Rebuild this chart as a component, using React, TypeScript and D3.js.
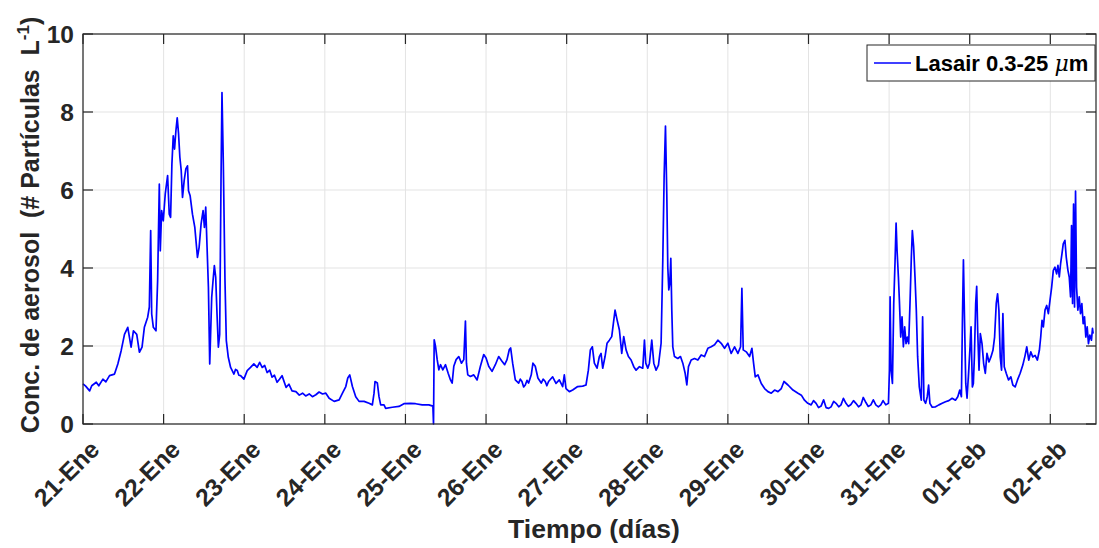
import React from 'react';
import * as d3 from 'd3';

// x in hours since 21-Ene 00:00, y in particles/L
const xTickLabels = ['21-Ene','22-Ene','23-Ene','24-Ene','25-Ene','26-Ene','27-Ene','28-Ene','29-Ene','30-Ene','31-Ene','01-Feb','02-Feb'];
const yTicks = [0, 2, 4, 6, 8, 10];
const xMaxHours = 301.6;
const legendLabel = 'Lasair 0.3-25 ';

const seg21to23: [number, number][] = [
  [0,1.03],[0.8,0.97],[1.98,0.85],[2.6,0.98],[3.95,1.07],[4.7,0.98],[5.93,1.15],[6.8,1.08],[7.9,1.24],[9.38,1.28],[10.37,1.54],[11.36,1.88],[12.35,2.3],[13.33,2.48],
  [14.32,1.97],[15.01,2.39],[16.0,2.3],[16.79,1.84],[17.58,1.97],[18.27,2.48],[19.26,2.74],[19.75,3.0],[20.15,4.96],[20.45,2.82],
  [20.94,2.48],[21.73,2.39],[22.22,3.68],[22.72,6.15],[23.01,4.44],[23.41,5.47],[23.9,5.21],[24.49,5.9],[25.19,6.37],[25.68,5.38],
  [26.08,5.3],[26.47,6.67],[26.87,7.39],[27.26,7.05],[27.66,7.52],[28.05,7.85],[28.45,7.44],[28.84,6.84],[29.24,6.5],[29.63,5.81],
  [30.12,6.24],[30.62,6.54],[31.11,6.62],[31.41,5.98],[31.9,5.85],[32.59,5.38],[33.29,5.04],[34.08,4.27],[34.57,4.53],[35.16,5.13],
  [35.75,5.47],[36.15,5.04],[36.54,5.56],[36.94,4.53],[37.34,3.5],[37.73,1.54],[38.32,3.25],[38.72,3.68],[39.11,4.06],[39.51,3.76],
  [39.9,2.82],[40.3,1.97],[40.69,2.3],[41.09,6.24],[41.38,8.5],[41.78,6.67],[42.27,3.68],[42.67,2.14],[43.26,1.71],[43.95,1.45],
  [44.94,1.28],[45.4,1.4],[45.93,1.37],[46.4,1.25],[46.92,1.24],[47.9,1.15],[48.89,1.37],[49.88,1.45],[50.87,1.54],[51.85,1.45],[52.6,1.58],[53.34,1.45],[54.1,1.5],[54.82,1.32],
  [55.6,1.38],[56.3,1.2],[57.0,1.25],[57.78,1.07],[58.5,1.15],[59.26,1.24],[60.45,0.94],[61.3,1.02],[62.23,0.85],
];

const seg24to26: [number, number][] = [
  [63.39,0.83],[64.4,0.74],[65.37,0.79],[66.3,0.72],[67.35,0.77],[68.3,0.7],[69.33,0.75],[70.3,0.82],[71.31,0.77],[72.3,0.79],[73.29,0.66],[74.77,0.58],[76.26,0.62],[77.25,0.79],
  [78.24,0.96],[78.83,1.18],[79.42,1.26],[80.21,0.96],[81.2,0.7],[82.19,0.58],[83.68,0.58],[85.16,0.53],[86.15,0.49],[86.65,0.79],
  [86.94,1.09],[87.64,1.05],[88.13,0.7],[88.63,0.49],[89.62,0.49],[90.11,0.4],[92.09,0.43],[94.07,0.45],[95.55,0.52],[97.53,0.53],
  [99.02,0.52],[101.0,0.49],[102.98,0.49],[104.17,0.46],[104.36,0],[104.56,2.16],[104.96,1.99],[105.45,1.65],[105.95,1.39],[106.44,1.52],
  [107.13,1.39],[107.93,1.52],[108.72,1.3],[109.41,1.13],[109.91,1.05],[110.4,1.48],[111.09,1.65],[111.88,1.73],[112.67,1.56],[113.37,1.65],
  [113.86,2.64],[114.16,1.56],[114.56,1.26],[115.35,1.22],[116.34,1.26],[117.33,1.13],[118.32,1.48],[119.31,1.78],[120.0,1.69],[120.79,1.48],
  [121.78,1.35],[122.77,1.52],[123.76,1.73],[124.75,1.61],[125.54,1.52],[126.24,1.65],[126.93,1.91],[127.32,1.95],[127.92,1.56],[128.71,1.13],
  [129.7,1.05],[130.2,1.15],[130.69,1.09],[131.2,0.95],[131.68,1.0],[132.2,1.12],[132.67,1.05],[133.46,1.26],[133.96,1.56],[134.65,1.48],[135.44,1.18],[136.43,1.05],[137.0,1.15],[137.62,1.09],
  [138.1,0.98],[138.61,1.09],
];

const seg27to29: [number, number][] = [
  [139.83,1.21],[140.82,1.04],[141.81,1.13],[142.81,0.96],[143.3,1.26],[143.8,0.91],[144.8,0.83],[145.79,0.87],[147.28,0.96],[148.77,0.97],
  [149.76,1.0],[150.46,1.38],[151.06,1.9],[151.65,1.98],[152.25,1.56],[153.04,1.43],[153.74,1.73],[154.24,1.81],[154.73,1.43],[155.43,1.73],
  [156.02,2.07],[156.72,2.15],[157.42,2.24],[157.91,2.58],[158.41,2.92],[159.01,2.67],[159.7,2.41],[160.4,1.81],[160.99,2.24],[161.69,1.9],
  [162.39,1.73],[163.18,1.64],[163.98,1.47],[164.67,1.38],[165.67,1.47],[166.66,1.43],[167.16,2.15],[167.55,1.56],[168.15,1.43],[168.65,1.56],
  [169.34,2.15],[169.94,1.56],[170.63,1.38],[171.33,1.51],[172.12,2.07],[172.62,4.2],[173.02,6.34],[173.42,7.64],[173.81,5.91],[174.11,4.03],
  [174.41,3.44],[174.71,3.61],[175.01,4.25],[175.3,2.92],[175.6,1.98],[176.1,1.73],[177.09,1.68],[177.89,1.73],[178.58,1.56],[179.28,1.3],
  [179.78,1.0],[180.27,1.47],[181.07,1.64],[182.06,1.68],[183.06,1.64],[184.05,1.77],[185.04,1.73],[186.04,1.94],[187.03,1.98],[188.03,2.03],
  [189.02,2.15],[190.01,2.07],[191.01,1.94],[192.0,2.07],[192.99,1.81],[193.99,1.98],[194.98,1.81],[195.78,1.98],[196.17,3.48],[196.57,1.9],
  [197.47,1.85],[198.46,1.73],[199.16,1.94],[199.65,1.56],[200.15,1.21],[200.95,1.26],[201.94,1.04],[202.93,0.91],[203.93,0.83],[204.92,0.79],
  [205.91,0.87],[206.91,0.83],[207.9,0.91],[208.7,1.09],[209.89,1.0],[211.38,0.87],[212.87,0.79],[213.87,0.74],
];

const seg30to02: [number, number][] = [
  [214.81,0.61],[215.8,0.53],[216.79,0.49],[217.5,0.6],[218.27,0.53],[219.0,0.42],[219.75,0.46],[220.5,0.62],[221.23,0.42],[222.0,0.4],
  [222.72,0.44],[223.5,0.58],[224.2,0.53],[225.0,0.44],[225.68,0.49],[226.4,0.66],[227.16,0.53],[227.9,0.45],[228.64,0.5],[229.4,0.6],
  [230.12,0.53],[230.9,0.44],[231.61,0.49],[232.3,0.68],[233.09,0.55],[233.8,0.45],[234.57,0.49],[235.3,0.62],[236.05,0.49],[236.8,0.44],
  [237.53,0.49],[238.2,0.6],[239.01,0.49],[239.8,0.53],[240.1,1.38],
  [240.3,3.26],[240.59,1.38],[240.99,1.04],[241.38,3.09],[241.78,4.19],[242.08,5.15],[242.37,4.45],[242.77,3.77],[243.06,3.17],[243.46,2.23],
  [243.85,2.75],[244.25,1.98],[244.64,2.49],[245.04,2.06],[245.43,2.23],[245.83,2.06],[246.22,3.09],[246.62,4.28],[246.92,4.96],[247.31,4.54],
  [247.71,3.77],[248.1,2.92],[248.5,1.72],[248.99,0.95],[249.58,0.61],[249.98,2.75],[250.37,0.61],[250.87,0.53],[251.36,0.7],[251.76,1.0],
  [252.15,0.53],[252.84,0.43],[253.83,0.44],[254.82,0.49],[255.8,0.53],[256.79,0.57],[257.78,0.6],[258.77,0.66],[259.75,0.61],[260.45,0.7],
  [261.04,0.87],[261.53,0.7],[261.83,2.66],[262.13,4.21],[262.42,2.83],[262.82,1.04],[263.21,0.66],[263.71,1.38],[264.1,1.98],[264.4,2.49],
  [264.79,0.95],[265.09,1.04],[265.39,1.72],[265.78,3.09],[266.08,3.53],[266.37,2.4],[266.77,1.38],[267.16,2.32],[267.66,2.06],[268.15,1.55],
  [268.65,1.3],[269.14,1.81],[269.73,1.59],[270.32,1.72],[270.92,1.89],[271.41,2.23],[271.9,3.09],[272.3,3.34],[272.69,2.92],[273.09,1.72],
  [273.48,1.38],[273.88,2.83],[274.28,1.47],[274.87,1.3],[275.56,1.13],[276.25,1.21],[276.84,1.0],[277.53,0.95],[278.23,1.13],[279.02,1.3],
  [279.81,1.51],[280.5,1.76],[280.99,1.98],[281.58,1.64],[282.18,1.85],[282.77,1.72],[283.46,1.76],[284.15,1.64],[284.74,1.89],[285.14,2.23],
  [285.53,2.66],[285.93,2.49],[286.42,2.92],[286.92,3.04],[287.41,2.83],[287.9,3.17],[288.4,3.51],[288.89,3.94],[289.38,4.02],[289.88,3.85],
  [290.27,4.07],[290.67,3.77],[291.06,4.11],[291.46,4.36],[291.85,4.62],[292.35,4.71],[292.74,4.28],[293.24,3.94],[293.63,3.77],[294.03,3.26],
  [294.32,5.09],[294.62,3.09],[294.92,5.64],[295.21,3.0],[295.51,5.97],[295.81,3.51],[296.2,2.92],[296.6,3.26],[296.99,2.83],[297.39,3.09],
  [297.78,2.57],[298.18,2.75],[298.57,2.23],[298.97,2.49],[299.36,2.06],[299.76,2.28],[300.25,2.15],[300.55,2.45],[300.75,2.32],
];

const FONT = '"Liberation Sans", Arial, Helvetica, sans-serif';
const AXIS = '#262626';
const GRID = '#e3e3e3';

export default function App() {
  const W = 1099, H = 548;
  const L = 83, R = 1096, T = 34, B = 424;
  const x = d3.scaleLinear().domain([0, xMaxHours]).range([L, R]);
  const y = d3.scaleLinear().domain([0, 10]).range([B, T]);
  const data = [...seg21to23, ...seg24to26, ...seg27to29, ...seg30to02];
  const line = d3.line<[number, number]>().x(d => x(d[0])).y(d => y(d[1]));
  const xTicks = xTickLabels.map((_, i) => i * 24);
  const tl = 10;

  return (
    <svg width={W} height={H} style={{ position: 'absolute', left: 0, top: 0, background: '#fff' }} fontFamily={FONT}>
      <rect x={0} y={0} width={W} height={H} fill="#fff" />
      {/* grid */}
      {xTicks.map(h => (
        <line key={'gx' + h} x1={x(h)} x2={x(h)} y1={T} y2={B} stroke={GRID} strokeWidth={1} />
      ))}
      {yTicks.map(v => (
        <line key={'gy' + v} x1={L} x2={R} y1={y(v)} y2={y(v)} stroke={GRID} strokeWidth={1} />
      ))}
      {/* data */}
      <path d={line(data) || ''} fill="none" stroke="#0000ff" strokeWidth={1.7} strokeLinejoin="round" />
      {/* axes box */}
      <rect x={L} y={T} width={R - L} height={B - T} fill="none" stroke={AXIS} strokeWidth={1.2} />
      {xTicks.map(h => (
        <g key={'tx' + h}>
          <line x1={x(h)} x2={x(h)} y1={B} y2={B - tl} stroke={AXIS} strokeWidth={1.2} />
          <line x1={x(h)} x2={x(h)} y1={T} y2={T + tl} stroke={AXIS} strokeWidth={1.2} />
        </g>
      ))}
      {yTicks.map(v => (
        <g key={'ty' + v}>
          <line x1={L} x2={L + tl} y1={y(v)} y2={y(v)} stroke={AXIS} strokeWidth={1.2} />
          <line x1={R} x2={R - tl} y1={y(v)} y2={y(v)} stroke={AXIS} strokeWidth={1.2} />
        </g>
      ))}
      {/* tick labels */}
      {yTicks.map(v => (
        <text key={'yl' + v} x={L - 9} y={y(v)} dy="0.36em" textAnchor="end" fontSize={24.5} fontWeight="bold" fill={AXIS}>{v}</text>
      ))}
      {xTicks.map((h, i) => (
        <text key={'xl' + h} transform={`translate(${x(h) + 18},${B + 27}) rotate(-45)`} textAnchor="end" fontSize={24.5} fontWeight="bold" fill={AXIS}>{xTickLabels[i]}</text>
      ))}
      {/* axis titles */}
      <text x={594} y={538} textAnchor="middle" fontSize={26.5} fontWeight="bold" fill={AXIS}>Tiempo (días)</text>
      <text transform={`translate(39,${(T + B) / 2 - 4}) rotate(-90)`} textAnchor="middle" fontSize={25} fontWeight="bold" fill={AXIS} style={{ whiteSpace: 'pre' }}>
        Conc. de aerosol  (# Partículas  L<tspan dy={-10} fontSize={17}>-1</tspan><tspan dy={10}>)</tspan>
      </text>
      {/* legend */}
      <rect x={867} y={45} width={228} height={36} fill="#fff" stroke={AXIS} strokeWidth={1} />
      <line x1={874} x2={911} y1={63} y2={63} stroke="#0000ff" strokeWidth={1.5} />
      <text x={915} y={71} fontSize={22} fontWeight="bold" fill="#000" style={{ whiteSpace: 'pre' }}>
        {legendLabel}<tspan fontStyle="italic" fontWeight="normal" fontFamily='"DejaVu Serif", serif'>μ</tspan>m
      </text>
    </svg>
  );
}
